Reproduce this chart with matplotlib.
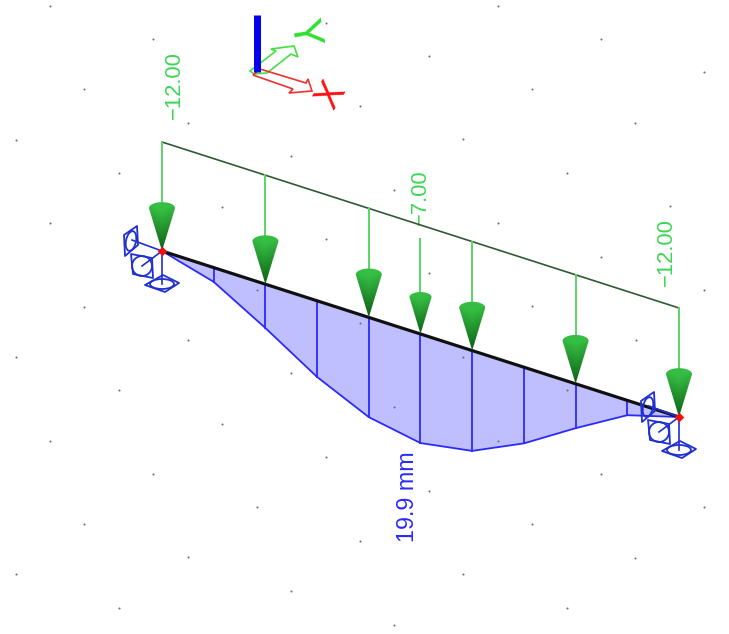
import numpy as np
import matplotlib
matplotlib.use('Agg')
import matplotlib.pyplot as plt
from matplotlib.patches import Ellipse, Polygon, Circle, PathPatch
from matplotlib.path import Path

plt.rcParams['font.family'] = ['Liberation Sans', 'DejaVu Sans']

stations = [0, 1, 2, 3, 4, 5, 6, 7, 8, 9, 10]
deflection_mm = [0, 2.6, 8.0, 13.9, 18.2, 19.9, 18.3, 13.9, 8.1, 2.7, 0]
load_stations = [0, 2, 4, 5, 6, 8, 10]
load_values = [-12, -12, -12, -7, -12, -12, -12]

# Puntos de la grilla de fondo, en pixeles de la imagen
grid_x = [50, 153, 84, 16, 188, 119, 50, 84, 188, 16, 291, 119, 222, 50, 326, 153, 257, 84,
          188, 16, 291, 119, 498, 601, 429, 704, 532, 360, 635, 463, 567, 394, 670, 601, 429,
          704, 532, 360, 635, 463, 567, 394, 326, 291, 222, 326, 257, 601, 704, 636, 567,
          498, 429, 532, 360, 463, 394, 498]
grid_y = [6, 39, 89, 140, 123, 173, 223, 307, 340, 357, 373, 390, 424, 441, 457, 474, 507, 524,
          557, 574, 591, 608, 6, 39, 56, 72, 89, 106, 123, 139, 173, 190, 206, 474, 491,
          507, 524, 541, 558, 574, 608, 625, 23, 156, 207, 239, 290, 257, 290, 340, 390,
          223, 273, 306, 323, 357, 407, 441]

# Proyeccion de la vista: origen, paso por estacion y escala de las magnitudes
ORIGIN = np.array([162.0, 251.0])
STEP = np.array([51.7, 16.6])
PX_PER_MM = 5.48
LOAD_HEIGHT = 109.0

GREEN_TEXT = '#3cd656'
GREEN_STEM = '#5cd468'
BLUE = '#2a2aff'
SUPPORT_BLUE = '#2030d0'


def beam_xy(s):
    return ORIGIN + STEP * s


def draw_cone(ax, tip, height, half_w):
    # Cono de carga: gradiente de color recortado con la silueta del cono
    cap_h = half_w * 0.45
    top_y = tip[1] - height
    ang = np.linspace(np.pi - 0.2, 2 * np.pi + 0.2, 40)
    arc_x = tip[0] + half_w * np.cos(ang)
    arc_y = top_y + cap_h * np.sin(ang)
    verts = list(zip(arc_x, arc_y)) + [tuple(tip), (arc_x[0], arc_y[0])]
    codes = [Path.MOVETO] + [Path.LINETO] * (len(verts) - 2) + [Path.CLOSEPOLY]
    clip = PathPatch(Path(verts, codes), fc='none', ec='none', transform=ax.transData)
    ax.add_patch(clip)

    yy, xx = np.mgrid[0:1:60j, -1:1:40j]
    light = np.array([54, 190, 68]) / 255
    dark = np.array([8, 84, 14]) / 255
    t = np.clip(yy * 1.1 + 0.15 * np.abs(xx) - 0.2, 0, 1)[..., None]
    img = light * (1 - t) + dark * t
    im = ax.imshow(img, extent=(tip[0] - half_w - 1, tip[0] + half_w + 1, tip[1] + 1, top_y - cap_h - 1),
                   aspect='auto', zorder=6, interpolation='bilinear')
    im.set_clip_path(clip)


def draw_support(ax, node):
    # Simbolo de apoyo: tres placas con su circulo
    x, y = node
    style = dict(fc='none', ec=SUPPORT_BLUE, lw=1.3, zorder=5)
    plate_a = [(-38, -16), (-25, -25), (-24, -6), (-37, 5)]
    plate_b = [(-31, 3), (-10, 7), (-9, 27), (-29, 23)]
    plate_c = [(-17, 34), (1, 24), (17, 32), (3, 41)]
    for plate in (plate_a, plate_b, plate_c):
        ax.add_patch(Polygon([(x + p[0], y + p[1]) for p in plate], closed=True, joinstyle='round', **style))
    ax.add_patch(Ellipse((x - 31, y - 10), 10, 20, angle=12, **style))
    ax.add_patch(Circle((x - 20, y + 15), 10, **style))
    ax.add_patch(Ellipse((x, y + 33), 24, 10, **style))
    line = dict(color=SUPPORT_BLUE, lw=1.2, zorder=5)
    ax.plot([x, x - 30], [y, y - 11], **line)
    ax.plot([x, x - 20], [y, y + 15], **line)
    ax.plot([x, x], [y, y + 33], **line)


fig = plt.figure(figsize=(7.29, 6.34), dpi=100)
ax = fig.add_axes([0, 0, 1, 1])

# Puntos de fondo
ax.scatter(grid_x, grid_y, s=2.2, color='#707070', linewidths=0, zorder=3)

# Diagrama de deformada
s = np.array(stations, dtype=float)
top = np.array([beam_xy(v) for v in s])
bottom = top + np.column_stack([np.zeros(len(s)), np.array(deflection_mm) * PX_PER_MM])
ax.fill(np.r_[top[:, 0], bottom[::-1, 0]], np.r_[top[:, 1], bottom[::-1, 1]], color='#bfbfff', lw=0, zorder=2)
ax.plot(bottom[:, 0], bottom[:, 1], color=BLUE, lw=1.3, zorder=3)
for a, b in zip(top[1:-1], bottom[1:-1]):
    ax.plot([a[0], b[0]], [a[1], b[1]], color=BLUE, lw=1.3, zorder=3)

# Apoyos
draw_support(ax, top[0])
draw_support(ax, top[-1])

# Viga
ax.plot(top[:, 0], top[:, 1], color='#101010', lw=2.3, zorder=4, solid_capstyle='butt')
ax.scatter([top[0, 0], top[-1, 0]], [top[0, 1], top[-1, 1]], s=24, color='#ee1111', marker='D', linewidths=0, zorder=8)

# Cargas
ax.plot([top[0, 0], top[-1, 0]], [top[0, 1] - LOAD_HEIGHT, top[-1, 1] - LOAD_HEIGHT], color='#2f5a33', lw=1.2, zorder=4)
for st, val in zip(load_stations, load_values):
    tip = beam_xy(st)
    small = abs(val) < 12
    stem_top = tip[1] - LOAD_HEIGHT + (14 if small else 0)
    height = 37 if small else 43
    half_w = 11 if small else 13
    ax.plot([tip[0], tip[0]], [stem_top, tip[1] - height], color=GREEN_STEM, lw=1.4, zorder=4)
    draw_cone(ax, tip, height, half_w)

# Etiquetas
txt = dict(rotation=90, ha='center', va='center', rotation_mode='anchor', fontsize=15.8)
ax.text(174, 85.5, '\u221212.00', color=GREEN_TEXT, **txt)
ax.text(420, 197, '\u22127.00', color=GREEN_TEXT, **txt)
ax.text(666, 252.5, '\u221212.00', color=GREEN_TEXT, **txt)
ax.text(408, 497, '19.9 mm', color=BLUE, rotation=90, ha='center', va='center', rotation_mode='anchor', fontsize=16.8)

# Triada de ejes
ax.add_patch(Polygon([(250, 71), (276, 51), (271, 49), (294, 46), (298, 57), (291, 54), (267, 73), (254, 74)],
                     closed=True, fc='none', ec='#44e044', lw=1.2, zorder=3))
ax.add_patch(Polygon([(253, 75), (260, 69), (306, 83), (308, 79), (312, 91), (289, 93), (293, 89)],
                     closed=True, fc='none', ec='#f03030', lw=1.2, zorder=3))
ax.plot([257, 257], [15, 72], color='#0000ee', lw=5.0, solid_capstyle='butt', zorder=4)
ax.text(303, 33, 'Y', color='#2ee02e', fontsize=30, rotation=-80, ha='center', va='center', rotation_mode='anchor')
ax.text(332, 96, 'X', color='#ff1010', fontsize=26, rotation=58, ha='center', va='center', rotation_mode='anchor')

ax.set_xlim(0, 729)
ax.set_ylim(634, 0)
ax.axis('off')
fig.savefig('out.png', dpi=100)
